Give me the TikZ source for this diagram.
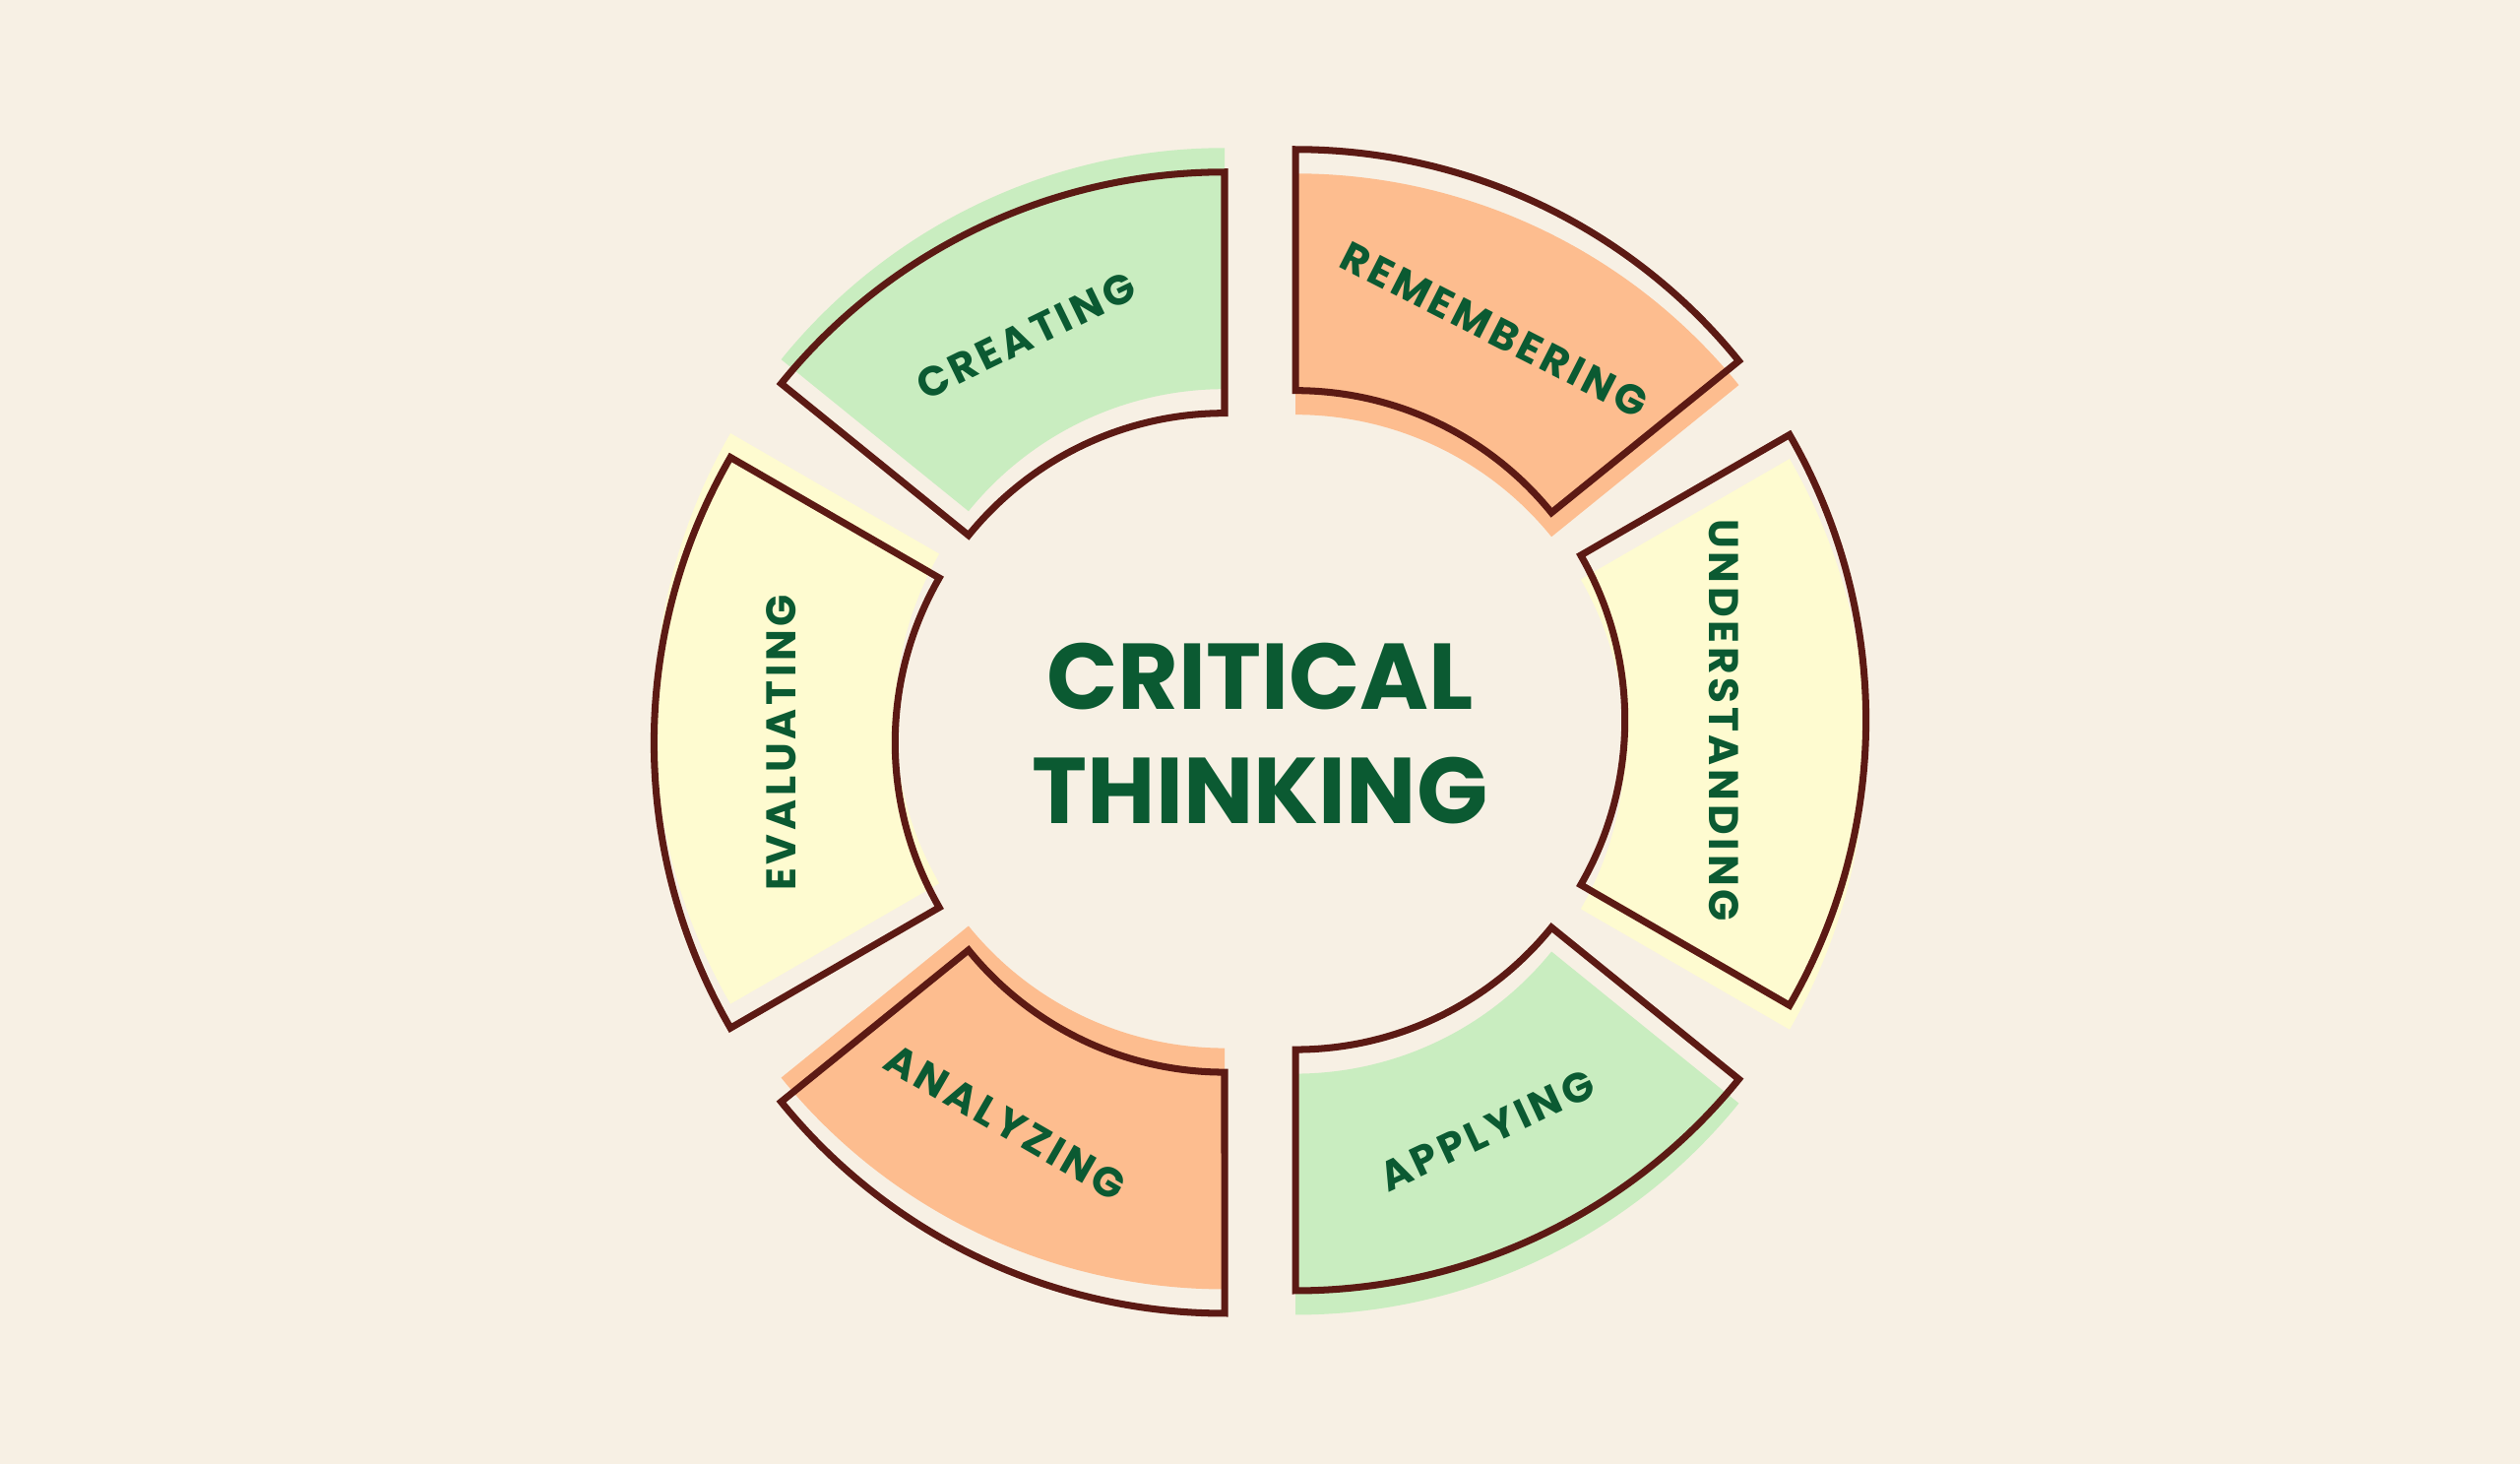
\documentclass[tikz,border=0pt]{standalone}
\usepackage{fontspec}
\setmainfont{Poppins}
\newfontfamily\labelfont[LetterSpace=9]{Poppins}
\usetikzlibrary{calc}
\definecolor{bgcol}{HTML}{F7F0E4}
\definecolor{greenseg}{HTML}{C9EDC0}
\definecolor{orangeseg}{HTML}{FDBD8F}
\definecolor{yellowseg}{HTML}{FEFBD0}
\definecolor{edgecol}{HTML}{5C1A14}
\definecolor{textcol}{HTML}{0B5A32}
\tikzset{
  outline/.style={draw=edgecol, line width=2pt, line join=miter},
  seglabel/.style={text=textcol, font=\labelfont\bfseries\fontsize{12}{12}\selectfont, inner sep=0pt},
  titlelabel/.style={text=textcol, font=\bfseries\fontsize{27}{33}\selectfont, align=center}
}
% sector: centre, start angle, end angle
\newcommand{\sectorpath}[3]{($(#1)+(#2:5.796)$) arc[start angle=#2, end angle=#3, radius=5.796]
  -- ($(#1)+(#3:3.347)$) arc[start angle=#3, end angle=#2, radius=3.347] -- cycle}

\begin{document}
\begin{tikzpicture}

    \fill[bgcol] (0,0) rectangle (25.6,14.874);
    \useasboundingbox (0,0) rectangle (25.6,14.874);

    \coordinate (cr) at (13.16,7.56);
    \coordinate (cl) at (12.44,7.33);
    \coordinate (cru) at (13.16,7.315);
    \coordinate (clu) at (12.44,7.575);

    %% Shadows
    \fill[orangeseg] \sectorpath{cru}{39}{90};
    \fill[yellowseg] \sectorpath{cru}{-30}{30};
    \fill[greenseg] \sectorpath{cru}{-90}{-39};
    \fill[greenseg] \sectorpath{clu}{90}{141};
    \fill[yellowseg] \sectorpath{clu}{150}{210};
    \fill[orangeseg] \sectorpath{clu}{219}{270};

    %% Outlines
    \draw[outline] \sectorpath{cr}{39}{90};
    \draw[outline] \sectorpath{cr}{-30}{30};
    \draw[outline] \sectorpath{cr}{-90}{-39};
    \draw[outline] \sectorpath{cl}{90}{141};
    \draw[outline] \sectorpath{cl}{150}{210};
    \draw[outline] \sectorpath{cl}{219}{270};

    %% Labels
    \node[seglabel, rotate=-27] (remember) at ($(cr)+(63:4.45)$) {REMEMBERING};
    \node[seglabel, rotate=-90] (understand) at ($(cr)+(0:4.35)$) {UNDERSTANDING};
    \node[seglabel, rotate=25] (apply) at ($(cr)+(-65:4.6)$) {APPLYING};
    \node[seglabel, rotate=26] (create) at ($(cl)+(116:4.6)$) {CREATING};
    \node[seglabel, rotate=90] (evaluate) at ($(cl)+(180:4.5)$) {EVALUATING};
    \node[seglabel, rotate=-30] (analyze) at ($(cl)+(-120:4.45)$) {ANALYZING};

    \node[titlelabel] (title) at (12.8,7.42) {CRITICAL\\THINKING};

\end{tikzpicture}
\end{document}
